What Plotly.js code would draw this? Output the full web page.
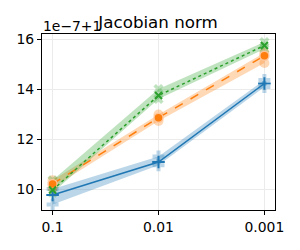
<!DOCTYPE html>
<html><head><meta charset="utf-8">
<script src="https://cdn.plot.ly/plotly-3.0.1.min.js"></script>
<style>html,body{margin:0;padding:0;background:#fff}#c{width:300px;height:250px}</style>
</head><body><div id="c"></div>
<script>
const categories = ["0.1", "0.01", "0.001"];
const yTicks = [10, 12, 14, 16];
const blueMean = [9.76, 11.08, 14.22];
const blueLow = [9.38, 10.95, 14.08];
const blueHigh = [10.0, 11.3, 14.36];
const orangeMean = [10.2, 12.85, 15.33];
const orangeLow = [10.05, 12.72, 15.04];
const orangeHigh = [10.35, 12.98, 15.45];
const greenMean = [9.96, 13.74, 15.74];
const greenLow = [9.85, 13.6, 15.6];
const greenHigh = [10.35, 14.0, 15.88];

const xs = categories.map((_, i) => i);
const series = [
  {mean: blueMean, low: blueLow, high: blueHigh, color: '#1f77b4', fill: 'rgba(31,119,180,0.3)', dash: 'solid', sym: 'cross-thin-open', faint: 'cross', size: 9, fsize: 10},
  {mean: orangeMean, low: orangeLow, high: orangeHigh, color: '#ff7f0e', fill: 'rgba(255,127,14,0.3)', dash: 'dash', sym: 'circle', faint: 'circle', size: 9, fsize: 10},
  {mean: greenMean, low: greenLow, high: greenHigh, color: '#2ca02c', fill: 'rgba(44,160,44,0.3)', dash: 'dot', sym: 'x-thin-open', faint: 'x', size: 7, fsize: 9}
];
const traces = [];
series.forEach(s => {
  traces.push({x: xs, y: s.low, mode: 'lines', line: {width: 0}, hoverinfo: 'skip', showlegend: false});
  traces.push({x: xs, y: s.high, mode: 'lines', line: {width: 0}, fill: 'tonexty', fillcolor: s.fill, hoverinfo: 'skip', showlegend: false});
});
series.forEach(s => {
  traces.push({x: xs.concat(xs), y: s.low.concat(s.high), mode: 'markers', marker: {symbol: s.faint, size: s.fsize, color: s.color, opacity: 0.3}, showlegend: false});
});
series.forEach(s => {
  traces.push({x: xs, y: s.mean, mode: 'lines+markers', line: {color: s.color, width: 1.5, dash: s.dash},
    marker: {symbol: s.sym, size: s.size, color: s.color, line: {color: s.sym === 'circle' ? 'rgba(255,200,160,0.9)' : s.color, width: s.sym === 'circle' ? 1.5 : 2}}, showlegend: false});
});
const layout = {
  width: 300, height: 250,
  margin: {l: 42, r: 25, t: 34, b: 40},
  paper_bgcolor: '#fff', plot_bgcolor: '#fff',
  font: {family: 'DejaVu Sans', size: 13.9, color: '#000'},
  title: {text: 'Jacobian norm', font: {size: 16.7, family: 'DejaVu Sans', color: '#000'}, x: 0.527, xanchor: 'center', y: 0.91, yanchor: 'middle', yref: 'container'},
  xaxis: {range: [-0.1, 2.1], tickvals: xs, ticktext: categories, showline: true, mirror: true, linecolor: '#000', linewidth: 1,
    ticks: 'outside', ticklen: 4, tickcolor: '#000', showgrid: true, gridcolor: '#ebebeb', zeroline: false, tickfont: {size: 13.9}},
  yaxis: {range: [9.16, 16.2], tickvals: yTicks, ticktext: yTicks.map(String), showline: true, mirror: true, linecolor: '#000', linewidth: 1,
    ticks: 'outside', ticklen: 4, tickcolor: '#000', showgrid: true, gridcolor: '#ebebeb', zeroline: false, tickfont: {size: 13.9}},
  annotations: [{text: '1e\u22127+1', xref: 'paper', yref: 'paper', x: 0, y: 1, xanchor: 'left', yanchor: 'bottom', showarrow: false, font: {size: 13.9}, xshift: -1, yshift: -2}]
};
Plotly.newPlot('c', traces, layout, {staticPlot: true, displayModeBar: false});
</script></body></html>
